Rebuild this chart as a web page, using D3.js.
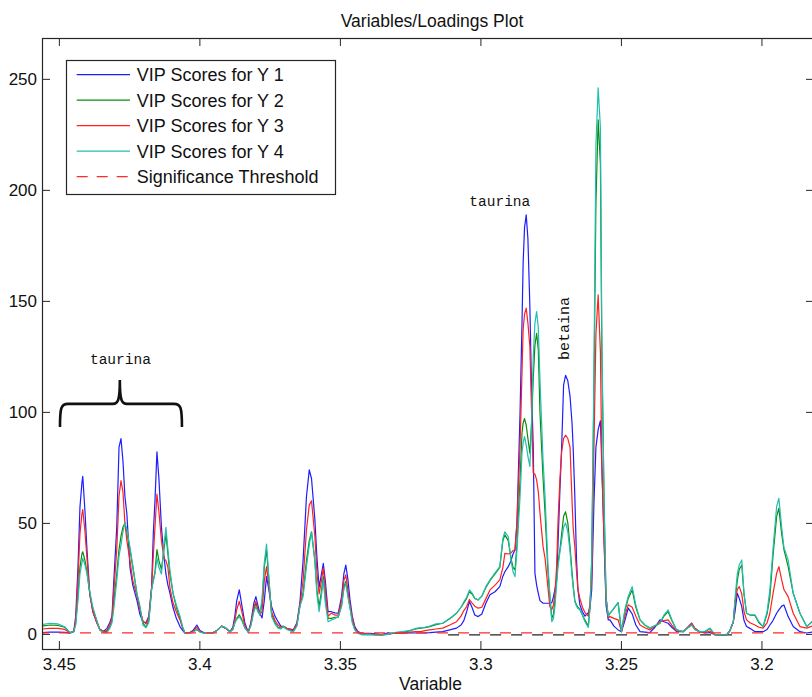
<!DOCTYPE html>
<html>
<head>
<meta charset="utf-8">
<script src="https://cdn.jsdelivr.net/npm/d3@7"></script>
<style>
  body { margin: 0; background: #fff; }
  svg { display: block; }
</style>
</head>
<body>
<svg id="chart" width="812" height="697"></svg>
<script>
// chemical shift (ppm) of each sample
const ppm = [
  3.4560,3.4532,3.4504,3.4479,3.4461,3.4447,3.4440,3.4432,3.4425,3.4418,
  3.4415,3.4407,3.4400,3.4390,3.4379,3.4365,3.4354,3.4340,3.4329,3.4319,
  3.4311,3.4304,3.4294,3.4286,3.4279,3.4272,3.4265,3.4258,3.4247,3.4237,
  3.4222,3.4212,3.4201,3.4190,3.4180,3.4170,3.4164,3.4158,3.4151,3.4144,
  3.4135,3.4126,3.4119,3.4112,3.4105,3.4094,3.4082,3.4069,3.4059,3.4052,
  3.4034,3.4023,3.4009,3.3998,3.3980,3.3955,3.3938,3.3921,3.3906,3.3891,
  3.3881,3.3874,3.3867,3.3858,3.3849,3.3838,3.3826,3.3817,3.3806,3.3799,
  3.3792,3.3785,3.3777,3.3769,3.3761,3.3753,3.3743,3.3731,3.3720,3.3710,
  3.3702,3.3689,3.3666,3.3653,3.3642,3.3631,3.3619,3.3609,3.3601,3.3589,
  3.3582,3.3574,3.3567,3.3559,3.3552,3.3542,3.3530,3.3518,3.3506,3.3494,
  3.3486,3.3479,3.3472,3.3464,3.3456,3.3447,3.3436,3.3422,3.3393,3.3372,
  3.3351,3.3329,3.3311,3.3294,3.3272,3.3251,3.3230,3.3212,3.3198,3.3180,
  3.3158,3.3134,3.3109,3.3085,3.3069,3.3059,3.3049,3.3039,3.3030,3.3020,
  3.3008,3.2995,3.2980,3.2966,3.2948,3.2931,3.2920,3.2913,3.2901,3.2891,
  3.2884,3.2877,3.2870,3.2859,3.2852,3.2848,3.2843,3.2837,3.2831,3.2824,
  3.2818,3.2812,3.2806,3.2800,3.2794,3.2788,3.2777,3.2770,3.2760,3.2753,
  3.2746,3.2740,3.2735,3.2729,3.2724,3.2717,3.2711,3.2704,3.2697,3.2689,
  3.2681,3.2674,3.2670,3.2664,3.2658,3.2653,3.2646,3.2637,3.2628,3.2616,
  3.2610,3.2604,3.2596,3.2589,3.2581,3.2573,3.2568,3.2560,3.2553,3.2545,
  3.2539,3.2525,3.2510,3.2498,3.2486,3.2474,3.2460,3.2447,3.2432,3.2415,
  3.2397,3.2379,3.2361,3.2347,3.2332,3.2319,3.2302,3.2278,3.2262,3.2248,
  3.2237,3.2219,3.2201,3.2183,3.2165,3.2144,3.2124,3.2112,3.2100,3.2094,
  3.2086,3.2079,3.2070,3.2062,3.2053,3.2041,3.2023,3.2009,3.1994,3.1980,
  3.1970,3.1959,3.1946,3.1938,3.1928,3.1920,3.1905,3.1887,3.1863,3.1839,
  3.1820
];

const vipY1 = [
  0.6,0.8,0.8,0.7,0.3,1.0,8,30,57,68,
  71,55,38,18,10,5,2,1.2,2.5,5,
  8,25,48,84,88,78,62,54,30,22,
  15,9,5.5,5,8,21,45,60,82,70,
  48,35,27,22,18.5,12,7,3.3,1.5,0.5,
  0.6,1.5,4,1.5,0.3,0.3,1.5,3.5,2.5,1,
  3,7.8,15,19.8,13,4.8,0.8,5,14,16.8,
  13,9.3,7.2,15,25.8,20,12.3,8,5.5,3.5,
  3.3,2.5,1.8,5,14.6,33,61.8,73.9,70,51.4,
  35,21,26,31.8,24,10,10,9.5,9.3,16.8,
  27,31,25,15.3,8,3.3,1,0.3,0.3,0,
  -0.3,0.5,0.3,0.4,0.3,0.5,0.4,0.4,0.5,0.6,
  0.8,1,1.8,2.6,4,6,10,14.6,12,8.5,
  7.8,9,14,17.6,19,21.3,26,28,30.3,33,
  36,37.8,50,99.5,140,167,183,188.7,178,147.4,
  110,84.4,27.3,22,18.3,15,13.8,13.8,13.8,13.8,
  14,16.8,20,24,40,65,84,112,116.5,114,
  106.9,95,84,61.8,33.4,20,13,10,8,9.6,
  12,19.8,59,84,92,96,75.9,42,13,6.3,
  6.3,3.5,1.8,1,6,11.6,9,4,1,0.8,
  0.6,3,6.3,5.5,4.8,3,1,1,3,4.8,
  2.5,0.9,0.4,0.6,-0.4,-0.4,-0.4,1.5,5.5,10,
  18.3,16,12.3,6,3.3,2.5,1,1,1,2,
  4,6,9.3,10.8,12.5,13,7.8,3.3,1,0.4,
  0.8
];

const vipY2 = [
  3.5,4.0,3.8,3.0,0.6,1.2,5,18,30,36,
  37,33,28,18,11,6,2,1.0,1.0,3,
  6,15,27,38,44,48,50,46,38,30,
  18,12,5,3,6,20,24,28,38,33,
  29,38,45,36,27,18.5,12,7,2.5,0.5,
  0.5,1.0,2,1.0,0.2,0.2,1.5,3.5,2.7,1,
  2,5,7,8.6,6.5,2.8,0.8,4,11,13.8,
  11,8.6,14,30,37.8,25,9,5,3,2.5,
  3.5,2.5,1.0,4,13,18.3,33,42,46,33,
  20,12.3,18,25.8,16,7,7,7.5,7.5,13,
  21,23.6,18,12,6,2,0.5,-0.3,-0.2,-0.5,
  -0.5,-0.2,0.2,0.6,0.8,1.5,2.2,2.6,2.8,3.3,
  4.2,4.8,6.8,9.3,12,14,16,19,18,16,
  15.3,17,21,24,27,30,42,44.6,42,34,
  30,28.8,40,69.4,90.5,95,97,94,88,81.4,
  95,115,130,135.4,128,99.4,70,54.4,28.8,16.8,
  7,9,15,25,32,38,45,53,55,50,
  39,28,22,15,13,12,11,8.5,6.3,3.5,
  12,33.4,110,194,231.5,211.7,126.8,60,16.4,8,
  9.3,11.5,14.1,1,10,16,19.8,12,6.3,4,
  2.6,3.5,4.8,8,10,6,1.8,1,2.8,4,
  2,0.9,1,2.4,-0.4,-0.4,-0.4,1.5,5.5,14,
  24,29,31,18,9.3,8.5,8.3,5,3.3,9,
  16.8,35,52.8,56.6,45,38,30.3,18.3,9.3,3.3,
  5.5
];

const vipY3 = [
  2.2,2.5,2.5,2.0,0.5,1.0,6,24,45,54,
  56,46,34,18,10,5,2,1.0,1.5,4,
  7,20,38,62,69,64,50,42,33,24,
  17,11,6,4.5,7,21,35,48,63,55,
  42,34,33,30,21,14,10,6.3,2.5,0.5,
  0.5,1.2,3,1.0,0.3,0.3,1.5,3.5,2.5,1,
  2.5,6,11,14.6,10,3.5,0.8,4.5,12,14.6,
  11,8.6,10,24,30.3,22,10,6,4,3,
  3.3,2.5,1.5,4.5,13,24,46.8,58,60,43.8,
  28,18,23,29.6,20,8,9.3,8.5,8.5,15,
  24,26.6,20,13,7,2.5,0.7,0,0,-0.3,
  -0.4,0,0.2,0.4,0.4,0.8,1,1,1.5,1.8,
  2.2,2.6,4,5.5,8,10.5,12.3,15.5,14,12.5,
  11.6,12,16,19.8,22,24.3,30,36.3,36,36.5,
  37.5,37.8,50,84.4,118,137,144,146.7,140,129.4,
  100,72.4,72,69.4,64,54.4,39.3,34,21.3,12.3,
  11,13,18,30,50,70,82,88,89.5,88,
  84,60,48,39,28,20,16,12,9.6,8,
  14,25,84,135,152.7,126.8,75.9,41.9,16.4,7.2,
  7.8,7,6.3,1,8,13.1,12,8,4,2.8,
  1.8,3.5,5.5,6,6.3,4,1.3,1,3,4.8,
  2.5,0.9,0.6,1.3,-0.4,-0.4,-0.4,1.5,5.5,14,
  20,21.3,18,10,6.3,5,4,3,2.6,5,
  9.3,18,27.3,30.3,24.3,20,16.8,9.3,3.3,2.6,
  3.5
];

const vipY4 = [
  4.2,4.8,4.5,3.2,0.6,1.0,4,15,27,32,
  34,31,27,19,12,6,1.5,0.6,0.5,2.5,
  5,12,24,35,40,46,50,47,39,31,
  18,13,4,2.8,5,20,24,27,34,30,
  27,40,48,38,29,18.5,13,8,3,0.5,
  0.3,0.8,2,0.8,0.2,0.2,1.5,3.5,2.7,1,
  2,5,6.5,7.8,6,2.6,0.8,3.5,10,12.3,
  10,8.6,16,32,40.5,26,7.8,4.5,2.6,2.2,
  3.3,2,0.9,3.5,12.5,16.8,30.3,40,46,33,
  18,10,16,24.3,14,5.5,6.3,6.8,7.8,12.3,
  20,22.8,17,11.6,5,1.8,0.3,-0.3,-0.3,-0.5,
  -0.5,-0.2,0.5,0.8,1.2,1.5,2.5,2.8,3,3.5,
  4.5,4.8,7,9.3,12,14.5,16.5,19.8,18.5,16,
  15.3,17,21.5,24.3,27.5,30.3,43,46,43.8,33,
  28,25.8,38,61.8,81.5,86,88.9,85,80,75.4,
  95,125,140,145.2,138,114,78,61.8,32,18,
  5.5,7,12,22,30,37,42,48,50,46,
  37,26,21,14.5,12.5,11.5,11,8.5,5.5,2.9,
  12,33.4,118.5,220,245.9,228,135,58.9,16.4,8,
  9.3,11.5,14.1,1,11,17,21.3,13,6.3,4,
  2.6,3.8,4.8,8.5,10.8,6.5,1.8,1,2.8,4,
  2,0.9,1.2,2.6,-0.4,-0.4,-0.4,1.5,5.5,16,
  27,31,33.3,18,9.3,8.6,8.6,5.5,3.3,10,
  19.8,38,57.3,61.1,48,39,33.3,18.3,9.3,3.3,
  5.5
];

const seriesNames = ['VIP Scores for Y 1', 'VIP Scores for Y 2', 'VIP Scores for Y 3', 'VIP Scores for Y 4'];
const thresholdName = 'Significance Threshold';
const thresholdLevel = 0.5;
// short black dashed reference drawn under the threshold on the right
const refLine = [3.3115, 3.2085];
const refLevel = -0.45;

const xTicks = [3.45, 3.4, 3.35, 3.3, 3.25, 3.2];
const xTickLabels = ['3.45', '3.4', '3.35', '3.3', '3.25', '3.2'];
const yTicks = [0, 50, 100, 150, 200, 250];

// annotations: [text, ppm, value]
const taurinaLeft = ['taurina', 3.4281, 121.6];
const taurinaMid = ['taurina', 3.2931, 192.8];
const betaina = ['betaina', 3.2686, 137.6];
const braceX = [3.4496, 3.4283, 3.4062];
const braceY = [93.2, 103.6, 114.4];

// ---- layout
const W = 812, H = 697;
const plot = { left: 42, top: 38, right: 814, bottom: 649 };
const font = '"Liberation Sans", Arial, Helvetica, sans-serif';
const mono = '"Liberation Mono", "Courier New", monospace';
const colors = ['#1d1dff', '#0a8c0a', '#ff2020', '#22bdb0'];
const axisColor = '#262626';

const svg = d3.select('#chart');
svg.append('rect').attr('width', W).attr('height', H).attr('fill', '#fff');

const x = d3.scaleLinear().domain([3.456, 3.1813]).range([plot.left, plot.right]);
const y = d3.scaleLinear().domain([-6.8, 268.4]).range([plot.bottom, plot.top]);

svg.append('defs').append('clipPath').attr('id', 'clip')
  .append('rect')
  .attr('x', plot.left).attr('y', plot.top)
  .attr('width', plot.right - plot.left).attr('height', plot.bottom - plot.top);

const plotG = svg.append('g').attr('clip-path', 'url(#clip)');

// threshold lines
plotG.append('line')
  .attr('x1', x(refLine[0])).attr('x2', x(refLine[1]))
  .attr('y1', y(refLevel)).attr('y2', y(refLevel))
  .attr('stroke', '#222').attr('stroke-width', 1.2)
  .attr('stroke-dasharray', '11,10').attr('stroke-dashoffset', 0);

// series
const allSeries = [vipY1, vipY2, vipY3, vipY4];
const line = d3.line()
  .x((d, i) => x(ppm[i]))
  .y(d => y(d));

allSeries.forEach((vals, k) => {
  plotG.append('path')
    .datum(vals)
    .attr('fill', 'none')
    .attr('stroke', colors[k])
    .attr('stroke-width', 1.2)
    .attr('stroke-linejoin', 'round')
    .attr('d', line);
});

plotG.append('line')
  .attr('x1', x.range()[0]).attr('x2', x.range()[1])
  .attr('y1', y(thresholdLevel)).attr('y2', y(thresholdLevel))
  .attr('stroke', '#ff2a2a').attr('stroke-width', 1.2)
  .attr('stroke-dasharray', '11,10').attr('stroke-dashoffset', 4);

// axes (MATLAB style: ticks pointing in, box around)
const tickLen = 8;
const styleAxis = g => {
  g.select('.domain').remove();
  g.selectAll('.tick line').attr('stroke', axisColor);
  g.selectAll('.tick text')
    .attr('fill', '#111')
    .style('font-family', font)
    .style('font-size', '17px');
};

svg.append('g')
  .attr('transform', `translate(0,${plot.bottom})`)
  .call(d3.axisBottom(x).tickValues(xTicks).tickFormat((d, i) => xTickLabels[i])
    .tickSize(-tickLen).tickPadding(9))
  .call(styleAxis);

svg.append('g')
  .attr('transform', `translate(0,${plot.top})`)
  .call(d3.axisTop(x).tickValues(xTicks).tickFormat('').tickSize(-tickLen))
  .call(styleAxis);

svg.append('g')
  .attr('transform', `translate(${plot.left},0)`)
  .call(d3.axisLeft(y).tickValues(yTicks).tickSize(-tickLen).tickPadding(5))
  .call(styleAxis);

svg.append('g')
  .attr('transform', `translate(${plot.right},0)`)
  .call(d3.axisRight(y).tickValues(yTicks).tickFormat('').tickSize(-tickLen))
  .call(styleAxis);

svg.append('rect')
  .attr('x', plot.left + 0.5).attr('y', plot.top + 0.5)
  .attr('width', plot.right - plot.left).attr('height', plot.bottom - plot.top)
  .attr('fill', 'none').attr('stroke', axisColor).attr('stroke-width', 1.2);

// title and axis label
svg.append('text')
  .attr('x', 432).attr('y', 27)
  .attr('text-anchor', 'middle')
  .style('font-family', font).style('font-size', '17.5px').attr('fill', '#111')
  .text('Variables/Loadings Plot');

svg.append('text')
  .attr('x', 430.5).attr('y', 690)
  .attr('text-anchor', 'middle')
  .style('font-family', font).style('font-size', '17.5px').attr('fill', '#111')
  .text('Variable');

// annotations
[taurinaLeft, taurinaMid].forEach(a => {
  svg.append('text')
    .attr('x', x(a[1])).attr('y', y(a[2]))
    .attr('text-anchor', 'middle')
    .style('font-family', mono).style('font-size', '14.5px').attr('fill', '#111')
    .text(a[0]);
});

svg.append('text')
  .attr('transform', `translate(${x(betaina[1])},${y(betaina[2])}) rotate(-90)`)
  .attr('text-anchor', 'middle')
  .style('font-family', mono).style('font-size', '15px').attr('fill', '#111')
  .text(betaina[0]);

// curly brace over the first taurina triplet
const bx0 = x(braceX[0]), bxm = x(braceX[1]), bx1 = x(braceX[2]);
const by0 = y(braceY[0]), bym = y(braceY[1]), byt = y(braceY[2]);
svg.append('path')
  .attr('d', `M${bx0},${by0} C${bx0},${bym + 4} ${bx0 + 1},${bym} ${bx0 + 8},${bym}
    L${bxm - 7},${bym} C${bxm - 2},${bym} ${bxm},${bym - 3} ${bxm},${byt}
    C${bxm},${bym - 3} ${bxm + 2},${bym} ${bxm + 7},${bym}
    L${bx1 - 8},${bym} C${bx1 - 1},${bym} ${bx1},${bym + 4} ${bx1},${by0}`)
  .attr('fill', 'none').attr('stroke', '#111').attr('stroke-width', 2.6);

// legend
const leg = { x: 66, y: 60, w: 269, h: 134, rowY0: 74.7, rowStep: 25.5 };
const legG = svg.append('g');
legG.append('rect')
  .attr('x', leg.x + 0.5).attr('y', leg.y + 0.5)
  .attr('width', leg.w).attr('height', leg.h)
  .attr('fill', '#fff').attr('stroke', axisColor).attr('stroke-width', 1.2);

const legItems = seriesNames.map((n, i) => ({ name: n, color: colors[i], dash: null }))
  .concat([{ name: thresholdName, color: '#ff2a2a', dash: '11,9' }]);

const rows = legG.selectAll('g.row').data(legItems).enter()
  .append('g').attr('class', 'row')
  .attr('transform', (d, i) => `translate(0,${leg.rowY0 + i * leg.rowStep})`);

rows.append('line')
  .attr('x1', 76.7).attr('x2', 130)
  .attr('stroke', d => d.color).attr('stroke-width', 1.2)
  .attr('stroke-dasharray', d => d.dash);

rows.append('text')
  .attr('x', 136.7).attr('y', 6.5)
  .style('font-family', font).style('font-size', '18px').attr('fill', '#111')
  .text(d => d.name);
</script>
</body>
</html>
